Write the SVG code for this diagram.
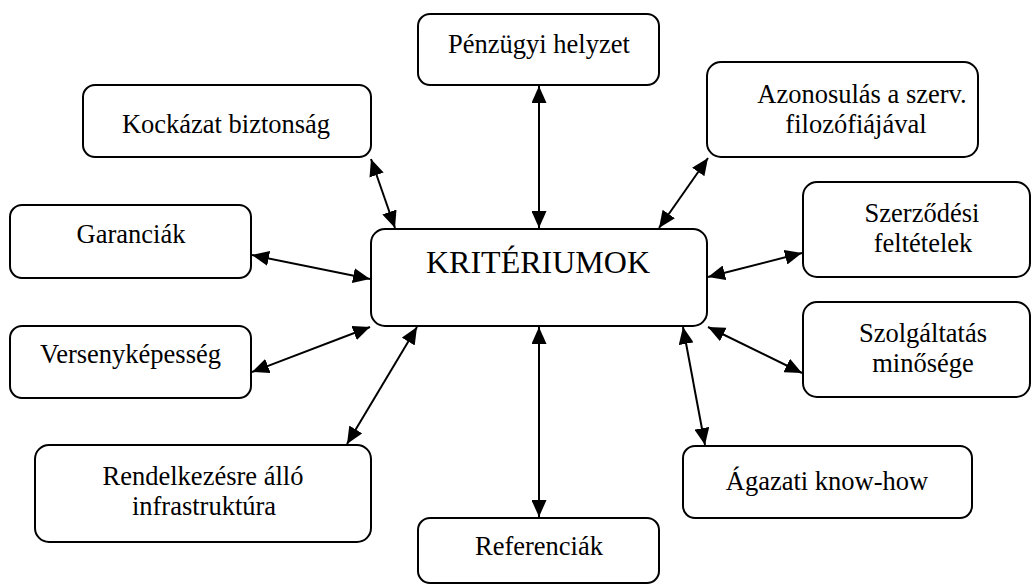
<svg xmlns="http://www.w3.org/2000/svg" width="1032" height="586" viewBox="0 0 1032 586">
<style>
.box{fill:#fff;stroke:#000;stroke-width:2}
.t{font-family:'Liberation Serif','Times New Roman',serif;font-size:26.5px;fill:#000;text-anchor:middle}
.big{font-size:32px}
.c{stroke:#000;stroke-width:2;fill:none;marker-start:url(#ah);marker-end:url(#ah)}
</style>
<defs>
<marker id="ah" viewBox="0 0 17 15" refX="17" refY="7.5" markerWidth="17" markerHeight="15" markerUnits="userSpaceOnUse" orient="auto-start-reverse">
<path d="M0,0 L17,7.5 L0,15 z" fill="#000"/>
</marker>
</defs>
<rect width="1032" height="586" fill="#fff"/>
<g id="connectors">
<line class="c" x1="539" y1="86" x2="539" y2="228"/>
<line class="c" x1="371" y1="159" x2="395" y2="228"/>
<line class="c" x1="708" y1="158" x2="659" y2="228"/>
<line class="c" x1="252" y1="255" x2="370" y2="279"/>
<line class="c" x1="708" y1="277" x2="802" y2="253"/>
<line class="c" x1="252" y1="372" x2="370" y2="327"/>
<line class="c" x1="347" y1="444" x2="417" y2="327"/>
<line class="c" x1="539" y1="327" x2="539" y2="517"/>
<line class="c" x1="683" y1="327" x2="705" y2="445"/>
<line class="c" x1="708" y1="327" x2="802" y2="373"/>
</g>
<g id="kriteriumok">
<rect class="box" x="371" y="229" width="336" height="97" rx="14"/>
<text class="t big" x="538" y="273">KRITÉRIUMOK</text>
</g>
<g id="penzugyi">
<rect class="box" x="418" y="14" width="241" height="71" rx="12"/>
<text class="t" x="539" y="53">Pénzügyi helyzet</text>
</g>
<g id="kockazat">
<rect class="box" x="83" y="85" width="288" height="72" rx="12"/>
<text class="t" x="226" y="133">Kockázat biztonság</text>
</g>
<g id="azonosulas">
<rect class="box" x="707" y="62" width="271" height="95" rx="14"/>
<text class="t" x="862" y="103">Azonosulás a szerv.</text>
<text class="t" x="856" y="133">filozófiájával</text>
</g>
<g id="garanciak">
<rect class="box" x="10" y="205" width="241" height="73" rx="12"/>
<text class="t" x="131" y="243">Garanciák</text>
</g>
<g id="szerzodesi">
<rect class="box" x="803" y="182" width="227" height="95" rx="14"/>
<text class="t" x="922" y="222">Szerződési</text>
<text class="t" x="923" y="252">feltételek</text>
</g>
<g id="versenykepesseg">
<rect class="box" x="10" y="326" width="241" height="72" rx="12"/>
<text class="t" x="130.5" y="363">Versenyképesség</text>
</g>
<g id="szolgaltatas">
<rect class="box" x="803" y="302" width="227" height="95" rx="14"/>
<text class="t" x="923" y="342">Szolgáltatás</text>
<text class="t" x="923" y="372">minősége</text>
</g>
<g id="rendelkezesre">
<rect class="box" x="35" y="445" width="336" height="97" rx="14"/>
<text class="t" x="203" y="485">Rendelkezésre álló</text>
<text class="t" x="204" y="515">infrastruktúra</text>
</g>
<g id="referenciak">
<rect class="box" x="418" y="518" width="241" height="65" rx="12"/>
<text class="t" x="539" y="555">Referenciák</text>
</g>
<g id="agazati">
<rect class="box" x="683" y="446" width="289" height="72" rx="12"/>
<text class="t" x="827" y="490">Ágazati know-how</text>
</g>
</svg>
